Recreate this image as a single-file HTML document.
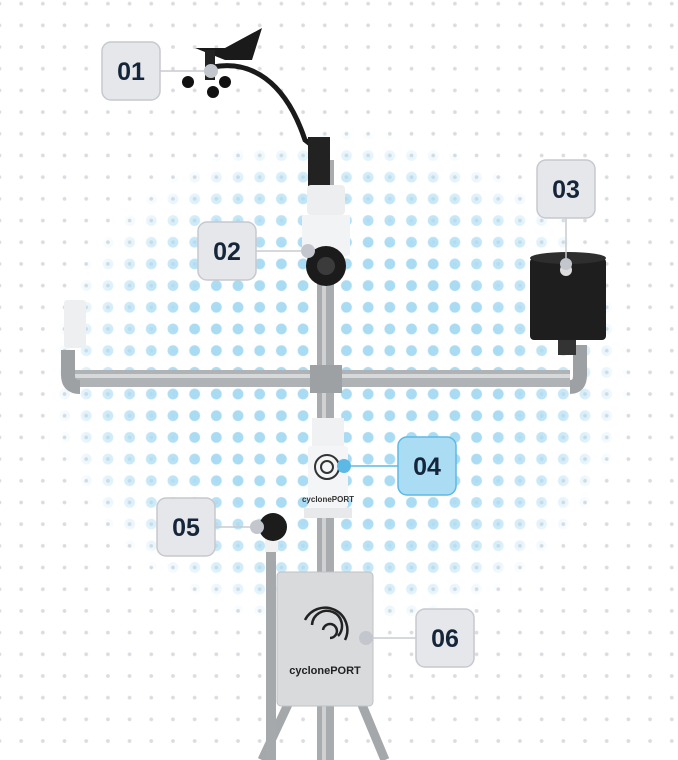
<!DOCTYPE html>
<html><head><meta charset="utf-8"><style>
html,body{margin:0;padding:0;background:#fff;width:678px;height:760px;overflow:hidden}
.bg{position:absolute;left:0;top:0;width:678px;height:760px;
background-image:radial-gradient(circle,#d9dce0 1.6px,transparent 2.2px);
background-size:21.7px 21.7px;background-position:10.3px -7.2px}
.blue{position:absolute;left:0;top:0;width:678px;height:760px;
background-image:radial-gradient(circle,#a9dbf3 5px,transparent 5.8px);
background-size:21.7px 21.7px;background-position:10.3px -7.2px;
-webkit-mask-image:radial-gradient(ellipse 290px 250px at 340px 380px,#000 55%,rgba(0,0,0,.6) 80%,transparent 100%);
mask-image:radial-gradient(ellipse 290px 250px at 340px 380px,#000 55%,rgba(0,0,0,.6) 80%,transparent 100%)}
svg{position:absolute;left:0;top:0}
text{font-family:"Liberation Sans",sans-serif;font-weight:bold}
</style></head><body>
<div class="bg"></div><div class="blue"></div>
<svg width="678" height="760" viewBox="0 0 678 760">
<!-- tripod legs -->
<line x1="290" y1="700" x2="262" y2="760" stroke="#a5a8ab" stroke-width="9"/>
<line x1="360" y1="700" x2="385" y2="760" stroke="#a5a8ab" stroke-width="9"/>
<!-- main pole -->
<rect x="317" y="160" width="17" height="600" fill="#a9acae"/>
<rect x="322" y="160" width="4" height="600" fill="#cfd1d3"/>
<!-- wind vane arm -->
<path d="M213 67 C250 60 285 80 305 140 L318 150" stroke="#1a1a1a" stroke-width="5" fill="none"/>
<rect x="308" y="137" width="22" height="50" fill="#222"/>
<path d="M195 48 L225 48 L262 28 L252 60 L225 60 Z" fill="#1a1a1a"/>
<rect x="205" y="50" width="10" height="30" fill="#222"/>
<circle cx="188" cy="82" r="6" fill="#111"/><circle cx="225" cy="82" r="6" fill="#111"/><circle cx="213" cy="92" r="6" fill="#111"/>
<!-- camera -->
<rect x="307" y="185" width="38" height="30" rx="4" fill="#eceeef"/>
<path d="M302 215 L350 215 L350 255 Q326 262 302 255 Z" fill="#f2f3f4"/>
<circle cx="326" cy="266" r="20" fill="#1b1b1b"/>
<circle cx="326" cy="266" r="9" fill="#3b3b3b"/>
<!-- horizontal pipe -->
<rect x="75" y="370" width="495" height="17" fill="#b0b3b5"/>
<rect x="75" y="374" width="495" height="4" fill="#d6d8da"/>
<rect x="310" y="365" width="32" height="28" fill="#9ea1a4"/>
<path d="M68 350 L68 375 Q68 387 80 387" stroke="#9ea1a4" stroke-width="14" fill="none"/>
<path d="M570 387 Q580 387 580 375 L580 345" stroke="#9ea1a4" stroke-width="14" fill="none"/>
<!-- small white sensor left -->
<rect x="64" y="300" width="22" height="48" rx="3" fill="#eeeff0"/>
<!-- rain gauge -->
<rect x="530" y="258" width="76" height="82" rx="4" fill="#1e1e1e"/>
<ellipse cx="568" cy="258" rx="38" ry="6" fill="#2e2e2e"/>
<rect x="558" y="340" width="18" height="15" fill="#333"/>
<circle cx="566" cy="270" r="6" fill="#ddd"/>
<!-- cyclone sensor -->
<rect x="312" y="418" width="32" height="28" fill="#f0f1f2"/>
<rect x="308" y="446" width="40" height="62" rx="3" fill="#f4f5f6"/>
<circle cx="327" cy="467" r="12" fill="none" stroke="#333" stroke-width="2"/>
<circle cx="327" cy="467" r="6" fill="none" stroke="#333" stroke-width="2"/>
<text x="328" y="502" font-size="8" fill="#333" text-anchor="middle">cyclonePORT</text>
<rect x="304" y="508" width="48" height="10" fill="#e8e9ea"/>
<!-- left rod & ball sensor -->
<rect x="266" y="540" width="10" height="220" fill="#a6a9ac"/>
<rect x="265" y="538" width="13" height="14" fill="#f1f1f1"/>
<circle cx="273" cy="527" r="14" fill="#1c1c1c"/>
<!-- box -->
<rect x="277" y="572" width="96" height="134" rx="4" fill="#d8dadc" stroke="#bfc2c5"/>
<path d="M305 620 A22 22 0 1 1 345 640" stroke="#222" stroke-width="2.5" fill="none"/>
<path d="M312 625 A15 15 0 1 1 338 636" stroke="#222" stroke-width="2.5" fill="none"/>
<path d="M323 630 A7 7 0 1 1 330 638" stroke="#222" stroke-width="2.5" fill="none"/>
<text x="325" y="674" font-size="11" fill="#222" text-anchor="middle">cyclonePORT</text>
<!-- connectors -->
<g stroke="#c8cbd0" stroke-width="1.5">
<line x1="160" y1="71" x2="211" y2="71"/>
<line x1="256" y1="251" x2="308" y2="251"/>
<line x1="566" y1="218" x2="566" y2="264"/>
<line x1="215" y1="527" x2="260" y2="527"/>
<line x1="368" y1="638" x2="416" y2="638"/>
</g>
<line x1="345" y1="466" x2="398" y2="466" stroke="#5cb9e6" stroke-width="1.5"/>
<g fill="#c3c6cc">
<circle cx="211" cy="71" r="7"/><circle cx="308" cy="251" r="7"/><circle cx="566" cy="264" r="6"/>
<circle cx="257" cy="527" r="7"/><circle cx="366" cy="638" r="7"/>
</g>
<circle cx="344" cy="466" r="7" fill="#5cb9e6"/>
<!-- labels -->
<g font-size="25">
<rect x="102" y="42" width="58" height="58" rx="9" fill="#e5e7ea" stroke="#c6c9cf" stroke-width="1.5"/>
<text x="131" y="80" text-anchor="middle" fill="#16263a">01</text>
<rect x="198" y="222" width="58" height="58" rx="9" fill="#e5e7ea" stroke="#c6c9cf" stroke-width="1.5"/>
<text x="227" y="260" text-anchor="middle" fill="#16263a">02</text>
<rect x="537" y="160" width="58" height="58" rx="9" fill="#e5e7ea" stroke="#c6c9cf" stroke-width="1.5"/>
<text x="566" y="198" text-anchor="middle" fill="#16263a">03</text>
<rect x="398" y="437" width="58" height="58" rx="9" fill="#aadcf3" stroke="#5cb9e6" stroke-width="1.5"/>
<text x="427" y="475" text-anchor="middle" fill="#16263a">04</text>
<rect x="157" y="498" width="58" height="58" rx="9" fill="#e5e7ea" stroke="#c6c9cf" stroke-width="1.5"/>
<text x="186" y="536" text-anchor="middle" fill="#16263a">05</text>
<rect x="416" y="609" width="58" height="58" rx="9" fill="#e5e7ea" stroke="#c6c9cf" stroke-width="1.5"/>
<text x="445" y="647" text-anchor="middle" fill="#16263a">06</text>
</g>
</svg>
</body></html>
